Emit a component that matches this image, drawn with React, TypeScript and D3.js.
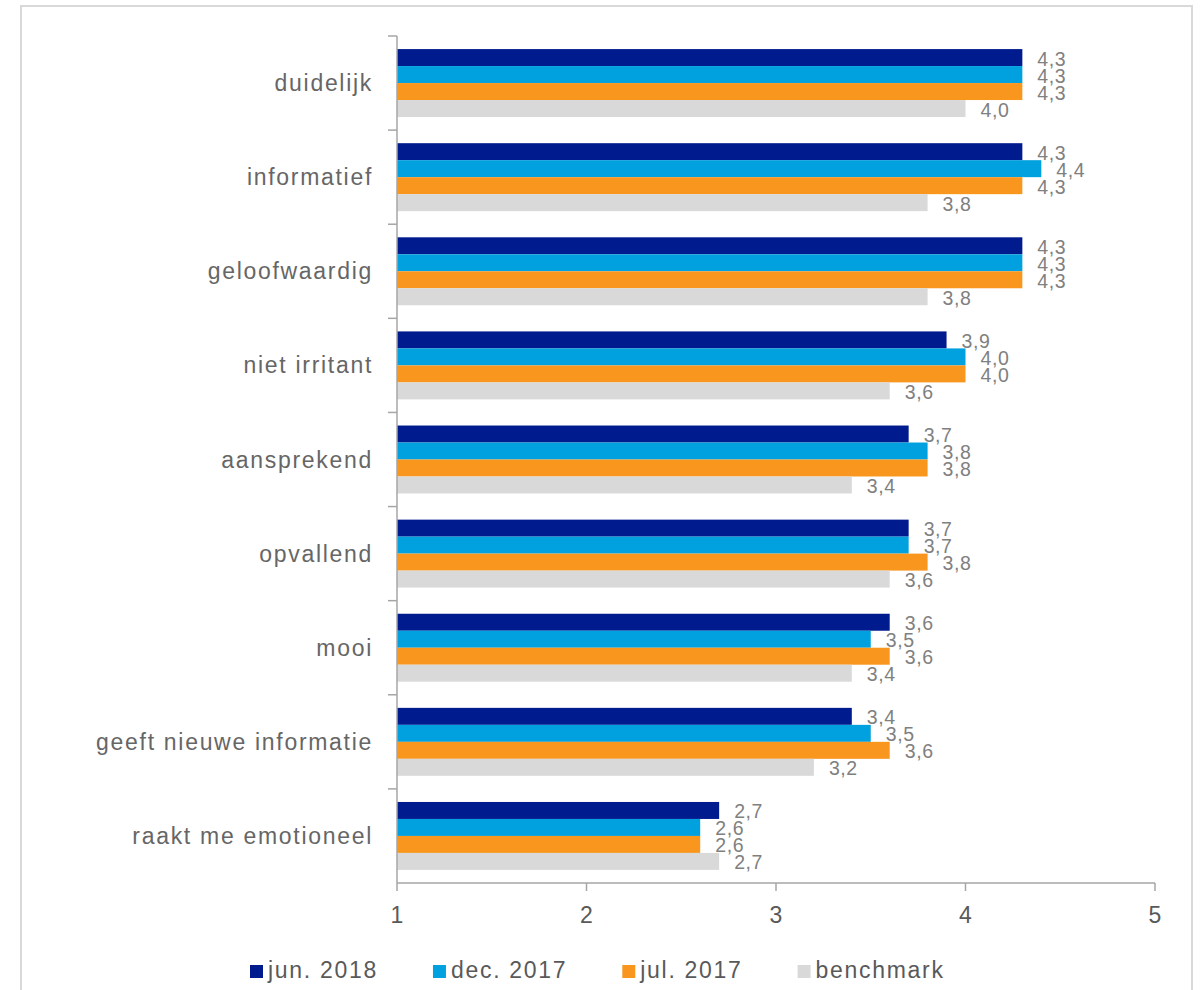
import React, { useEffect, useRef } from "react";
import * as d3 from "d3";

const categories = [
  "duidelijk",
  "informatief",
  "geloofwaardig",
  "niet irritant",
  "aansprekend",
  "opvallend",
  "mooi",
  "geeft nieuwe informatie",
  "raakt me emotioneel",
];
const seriesNames = ["jun. 2018", "dec. 2017", "jul. 2017", "benchmark"];
const jun2018 = [4.3, 4.3, 4.3, 3.9, 3.7, 3.7, 3.6, 3.4, 2.7];
const dec2017 = [4.3, 4.4, 4.3, 4.0, 3.8, 3.7, 3.5, 3.5, 2.6];
const jul2017 = [4.3, 4.3, 4.3, 4.0, 3.8, 3.8, 3.6, 3.6, 2.6];
const benchmark = [4.0, 3.8, 3.8, 3.6, 3.4, 3.6, 3.4, 3.2, 2.7];
const seriesValues = [jun2018, dec2017, jul2017, benchmark];
const seriesColors = ["#001b8e", "#00a1de", "#f8961e", "#d9d9d9"];
const xTicks = [1, 2, 3, 4, 5];

const W = 1204;
const H = 990;
const FONT = "'Liberation Sans', Arial, sans-serif";

export default function App() {
  const ref = useRef<SVGSVGElement | null>(null);

  useEffect(() => {
    const svg = d3.select(ref.current);
    svg.selectAll("*").remove();

    // outer frame
    svg
      .append("rect")
      .attr("x", 21)
      .attr("y", 6)
      .attr("width", 1171)
      .attr("height", 1000)
      .attr("fill", "#ffffff")
      .attr("stroke", "#d9d9d9")
      .attr("stroke-width", 2);

    const x = d3.scaleLinear().domain([1, 5]).range([397, 1155]);
    const y = d3.scaleBand<string>().domain(categories).range([36, 883]).padding(0);
    const ySub = d3
      .scaleBand<string>()
      .domain(seriesNames)
      .range([0, y.bandwidth()])
      .paddingInner(0)
      .paddingOuter(0.77);

    const g = svg.append("g");

    // bars
    seriesNames.forEach((s, si) => {
      const vals = seriesValues[si];
      g.append("g")
        .selectAll("rect")
        .data(categories.map((c, i) => ({ c, v: vals[i] })))
        .join("rect")
        .attr("x", x(1))
        .attr("y", (d) => (y(d.c) as number) + (ySub(s) as number))
        .attr("width", (d) => x(d.v) - x(1))
        .attr("height", ySub.bandwidth())
        .attr("fill", seriesColors[si]);
    });

    // data labels
    seriesNames.forEach((s, si) => {
      const vals = seriesValues[si];
      g.append("g")
        .selectAll("text")
        .data(categories.map((c, i) => ({ c, v: vals[i] })))
        .join("text")
        .attr("x", (d) => x(d.v) + 15)
        .attr(
          "y",
          (d) => (y(d.c) as number) + (ySub(s) as number) + ySub.bandwidth() / 2 + 8
        )
        .attr("font-family", FONT)
        .attr("font-size", 19.5)
        .attr("letter-spacing", 0.6)
        .attr("fill", "#808080")
        .text((d) => d3.format(".1f")(d.v).replace(".", ","));
    });

    // y axis line + ticks
    const axisColor = "#a6a6a6";
    g.append("line")
      .attr("x1", x(1))
      .attr("x2", x(1))
      .attr("y1", 36)
      .attr("y2", 883)
      .attr("stroke", axisColor)
      .attr("stroke-width", 1.5);
    const yTickPos = categories.map((c) => y(c) as number);
    g.append("g")
      .selectAll("line")
      .data(yTickPos)
      .join("line")
      .attr("x1", x(1) - 9)
      .attr("x2", x(1))
      .attr("y1", (d) => d)
      .attr("y2", (d) => d)
      .attr("stroke", axisColor)
      .attr("stroke-width", 1.5);

    // category labels
    g.append("g")
      .selectAll("text")
      .data(categories)
      .join("text")
      .attr("x", 373)
      .attr("y", (d) => (y(d) as number) + y.bandwidth() / 2 + 8)
      .attr("text-anchor", "end")
      .attr("font-family", FONT)
      .attr("font-size", 23)
      .attr("letter-spacing", 1.7)
      .attr("fill", "#666666")
      .text((d) => d);

    // x axis
    g.append("line")
      .attr("x1", x(1))
      .attr("x2", x(5))
      .attr("y1", 883)
      .attr("y2", 883)
      .attr("stroke", axisColor)
      .attr("stroke-width", 1.5);
    g.append("g")
      .selectAll("line")
      .data(xTicks)
      .join("line")
      .attr("x1", (d) => x(d))
      .attr("x2", (d) => x(d))
      .attr("y1", 883)
      .attr("y2", 891)
      .attr("stroke", axisColor)
      .attr("stroke-width", 1.5);
    g.append("g")
      .selectAll("text")
      .data(xTicks)
      .join("text")
      .attr("x", (d) => x(d))
      .attr("y", 923)
      .attr("text-anchor", "middle")
      .attr("font-family", FONT)
      .attr("font-size", 23)
      .attr("fill", "#595959")
      .text((d) => String(d));

    // legend
    const leg = svg.append("g");
    let lx = 250;
    seriesNames.forEach((s, si) => {
      leg
        .append("rect")
        .attr("x", lx)
        .attr("y", 965)
        .attr("width", 13)
        .attr("height", 13)
        .attr("fill", seriesColors[si]);
      const t = leg
        .append("text")
        .attr("x", lx + 18)
        .attr("y", 978)
        .attr("font-family", FONT)
        .attr("font-size", 23)
        .attr("letter-spacing", 1.7)
        .attr("fill", "#595959")
        .text(s);
      const w = (t.node() as SVGTextElement).getComputedTextLength();
      lx = lx + 18 + w + 55;
    });
  }, []);

  return (
    <svg
      ref={ref}
      width={W}
      height={H}
      style={{ position: "absolute", left: 0, top: 0, background: "#ffffff" }}
    />
  );
}
